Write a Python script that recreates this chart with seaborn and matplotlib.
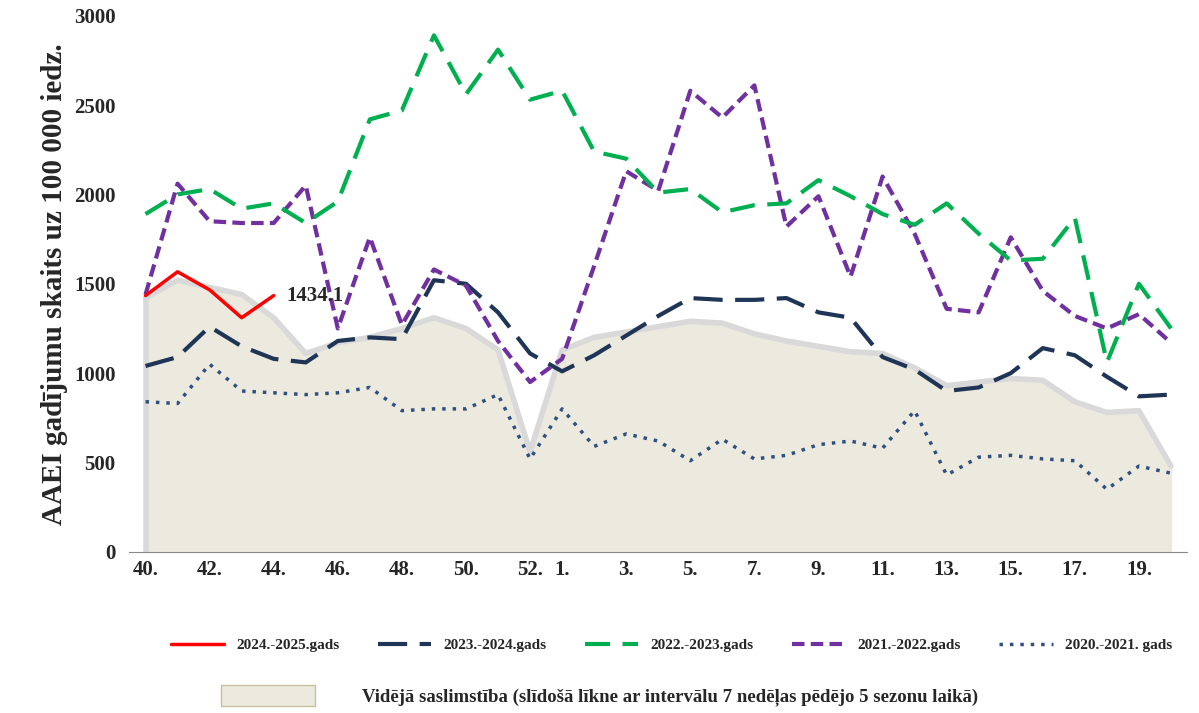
import numpy as np
import pandas as pd
import matplotlib
import matplotlib.pyplot as plt
import seaborn as sns
from matplotlib.patches import Patch
from matplotlib.lines import Line2D

matplotlib.use('Agg')

weeks = [str(w) for w in range(40, 53)] + [str(w) for w in range(1, 21)]
s2425 = [1434, 1567, 1466, 1310, 1434.1]
avg = [1420, 1520, 1480, 1440, 1310, 1110, 1170, 1200, 1250, 1310, 1250, 1130, 560,
       1130, 1200, 1230, 1260, 1290, 1280, 1220, 1180, 1150, 1120, 1110, 1030, 930,
       950, 970, 960, 840, 780, 790, 480]
s2324 = [1040, 1090, 1260, 1150, 1080, 1060, 1180, 1200, 1190, 1520, 1500, 1340, 1110,
         1010, 1100, 1210, 1320, 1420, 1410, 1410, 1420, 1340, 1310, 1090, 1020, 900,
         920, 1000, 1140, 1100, 980, 870, 880]
s2223 = [1890, 2000, 2030, 1920, 1950, 1840, 1960, 2420, 2470, 2890, 2560, 2810, 2530,
         2580, 2240, 2200, 2010, 2030, 1900, 1940, 1950, 2080, 1990, 1890, 1830, 1950,
         1780, 1630, 1640, 1870, 1060, 1500, 1250]
s2122 = [1440, 2060, 1850, 1840, 1840, 2050, 1250, 1760, 1270, 1580, 1490, 1180, 950,
         1080, 1600, 2130, 2020, 2580, 2430, 2610, 1820, 1990, 1540, 2100, 1780, 1360,
         1340, 1760, 1460, 1320, 1250, 1330, 1170]
s2021 = [840, 830, 1050, 900, 890, 880, 890, 920, 790, 800, 800, 880, 520,
         800, 590, 660, 620, 510, 630, 520, 540, 600, 620, 580, 790, 430,
         530, 540, 520, 510, 350, 480, 440]
tick_labels = ["40.", "42.", "44.", "46.", "48.", "50.", "52.", "1.", "3.", "5.", "7.",
               "9.", "11.", "13.", "15.", "17.", "19."]

sns.set_style('white')
plt.rcParams['font.family'] = ['Liberation Serif', 'DejaVu Serif']
plt.rcParams['font.weight'] = 'bold'

x = np.arange(len(weeks))
fig = plt.figure(figsize=(11.99, 7.13), dpi=100)
ax = fig.add_axes([0.108, 0.226, 0.882, 0.752])

ax.fill_between(x, avg, 0, color='#ece9df', zorder=1)
ax.plot(x, avg, color='#d9d9d9', lw=4, zorder=1)
ax.plot([0, 0], [0, avg[0]], color='#d9d9d9', lw=4, zorder=1)

df = pd.DataFrame({'x': x, 's2324': s2324, 's2223': s2223, 's2122': s2122, 's2021': s2021})
sns.lineplot(data=df, x='x', y='s2021', ax=ax, color='#2f4f7f', lw=2.5, linestyle=(0, (1, 2)))
sns.lineplot(data=df, x='x', y='s2324', ax=ax, color='#1f3556', lw=3, linestyle=(0, (7, 3)))
sns.lineplot(data=df, x='x', y='s2122', ax=ax, color='#7030a0', lw=3, linestyle=(0, (3, 1.5)))
sns.lineplot(data=df, x='x', y='s2223', ax=ax, color='#00b050', lw=3, linestyle=(0, (6, 3)))
sns.lineplot(x=x[:len(s2425)], y=s2425, ax=ax, color='#ff0000', lw=2.5)
ax.text(x[len(s2425) - 1] + 0.4, s2425[-1], f"{s2425[-1]:.1f}", fontsize=15,
        fontweight='bold', va='center')

ax.set_xlim(-0.5, 32.5)
ax.set_ylim(0, 3000)
ax.set_yticks(range(0, 3001, 500))
tick_pos = [weeks.index(t.rstrip('.')) for t in tick_labels]
ax.set_xticks(tick_pos)
ax.set_xticklabels(tick_labels)
ax.tick_params(axis='x', which='major', length=0, labelsize=15, pad=6)
ax.tick_params(axis='y', labelsize=15, length=0, pad=10)
for lab in ax.get_xticklabels() + ax.get_yticklabels():
    lab.set_fontweight('bold')
ax.set_xlabel('')
ax.set_ylabel('AAEI gadījumu skaits uz 100 000 iedz.', fontsize=21, fontweight='bold', labelpad=4)
for sp in ['top', 'right', 'left']:
    ax.spines[sp].set_visible(False)
ax.spines['bottom'].set_color('#888888')

handles = [
    Line2D([], [], color='#ff0000', lw=2.5),
    Line2D([], [], color='#1f3556', lw=3, linestyle=(0, (7, 3))),
    Line2D([], [], color='#00b050', lw=3, linestyle=(0, (6, 3))),
    Line2D([], [], color='#7030a0', lw=3, linestyle=(0, (3, 1.5))),
    Line2D([], [], color='#2f4f7f', lw=2.5, linestyle=(0, (1, 2))),
]
labels = ['2024.-2025.gads', '2023.-2024.gads', '2022.-2023.gads', '2021.-2022.gads', '2020.-2021. gads']
fig.legend(handles, labels, loc='center', bbox_to_anchor=(0.56, 0.095), ncol=5, frameon=False,
           prop={'weight': 'bold', 'size': 11}, handlelength=3.5, columnspacing=2.5)
fig.legend([Patch(facecolor='#ece9df', edgecolor='#c8bfa0')],
           ['Vidējā saslimstība (slīdošā līkne ar intervālu 7 nedēļas pēdējo 5 sezonu laikā)'],
           loc='center', bbox_to_anchor=(0.5, 0.024), frameon=False,
           prop={'weight': 'bold', 'size': 13.5}, handlelength=5, handleheight=1.3, handletextpad=2.5)

fig.savefig('out.png', dpi=100)
